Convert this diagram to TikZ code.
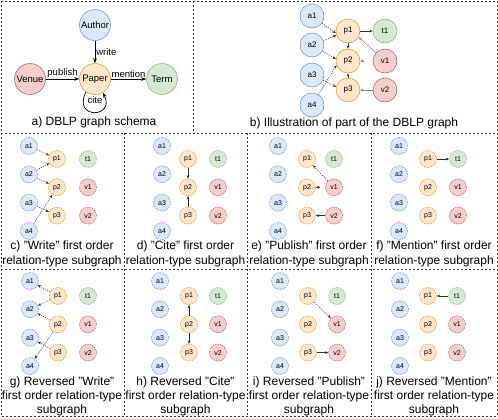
\documentclass[tikz,border=0pt]{standalone}
\usepackage{fontspec}
\setmainfont{Liberation Sans}
\usetikzlibrary{arrows.meta,calc}
\definecolor{bF}{HTML}{DAE8FC}\definecolor{bD}{HTML}{6C8EBF}
\definecolor{oF}{HTML}{FFE6CC}\definecolor{oD}{HTML}{D79B00}
\definecolor{rF}{HTML}{F8CECC}\definecolor{rD}{HTML}{B85450}
\definecolor{gF}{HTML}{D5E8D4}\definecolor{gD}{HTML}{82B366}
\definecolor{edgeC}{HTML}{333333}
\newcommand\qq{\symbol{34}}
\tikzset{
  frm/.style={line width=0.7pt, dash pattern=on 2pt off 2pt, black!80},
  bignode/.style={circle, minimum size=31pt, inner sep=0pt, line width=0.5pt, font=\fontsize{9.5}{11}\selectfont},
  midnode/.style={circle, minimum size=24pt, inner sep=0pt, line width=0.5pt, font=\fontsize{8}{9}\selectfont},
  smlnode/.style={circle, minimum size=17pt, inner sep=0pt, line width=0.5pt, dash pattern=on 1.5pt off 1pt, font=\fontsize{7}{8}\selectfont},
  colA/.style={fill=bF, draw=bD}, colP/.style={fill=oF, draw=oD},
  colV/.style={fill=rF, draw=rD}, colT/.style={fill=gF, draw=gD},
  sa/.style={smlnode,colA}, sp/.style={smlnode,colP}, sv/.style={smlnode,colV}, st/.style={smlnode,colT},
  arr/.style={-{Stealth[length=5pt,width=3.5pt]}, line width=0.7pt, black},
  sarr/.style={-{Stealth[length=3.5pt,width=2.8pt]}, line width=0.5pt, edgeC},
  darr/.style={sarr, dash pattern=on 1.2pt off 1.2pt},
  elab/.style={font=\fontsize{9.5}{11}\selectfont, inner sep=1pt},
  captxt/.style={font=\fontsize{12}{15}\selectfont, align=center, inner sep=0pt},
}
\newcommand\mksub[6]{%
  \node[sa] (#1a1) at (#2,#5) {a1};
  \node[sa] (#1a2) at (#2,{#5+28.3}) {a2};
  \node[sa] (#1a3) at (#2,{#5+56.6}) {a3};
  \node[sa] (#1a4) at (#2,{#5+85}) {a4};
  \node[sp] (#1p1) at (#3,#6) {p1};
  \node[sp] (#1p2) at (#3,{#6+28.3}) {p2};
  \node[sp] (#1p3) at (#3,{#6+56.6}) {p3};
  \node[st] (#1t1) at (#4,#6) {t1};
  \node[sv] (#1v1) at (#4,{#6+28.3}) {v1};
  \node[sv] (#1v2) at (#4,{#6+56.6}) {v2};
}
\begin{document}
\begin{tikzpicture}[x=1pt,y=-1pt]
\useasboundingbox (0,0) rectangle (498,418);
% frames
\draw[frm] (1,1) rectangle (497,416);
\draw[frm] (1,133) -- (497,133);
\draw[frm] (1,269) -- (497,269);
\draw[frm] (193,1) -- (193,133);
\draw[frm] (124,133) -- (124,416);
\draw[frm] (247,133) -- (247,416);
\draw[frm] (371,133) -- (371,416);

% panel a
\node[bignode,colA] (author) at (95,25) {Author};
\node[bignode,colP] (paper) at (95,79) {Paper};
\node[bignode,colV] (venue) at (30,79) {Venue};
\node[bignode,colT] (term) at (162,79) {Term};
\draw[arr] (author) -- node[elab, right] {write} (paper);
\draw[arr] (venue) -- node[elab, above, inner sep=1.5pt] {publish} (paper);
\draw[arr] (paper) -- node[elab, above, inner sep=1.5pt] {mention} (term);
\draw[arr] (paper.235) .. controls (72,120) and (116,118) .. (paper.300);
\node[elab] (citel) at (95,100) {cite};
\node[captxt] (capa) at (94,122) {a) DBLP graph schema};

% panel b
\node[midnode,colA] (a1) at (312,16) {a1};
\node[midnode,colA] (a2) at (312,45) {a2};
\node[midnode,colA] (a3) at (312,75) {a3};
\node[midnode,colA] (a4) at (312,105) {a4};
\node[midnode,colP] (p1) at (348,31) {p1};
\node[midnode,colP] (p2) at (348,61) {p2};
\node[midnode,colP] (p3) at (348,90) {p3};
\node[midnode,colT] (t1) at (385,31) {t1};
\node[midnode,colV] (v1) at (385,61) {v1};
\node[midnode,colV] (v2) at (385,90) {v2};
\draw[darr] (a1) -- (p1.190);
\draw[darr] (a2) -- (p1.200);
\draw[darr] (a2) -- (p2.170);
\draw[darr] (a3) -- (p3.165);
\draw[darr] (a4) -- (p2.200);
\draw[sarr] (p1) -- (p2);
\draw[sarr] (p3) -- (p2);
\draw[sarr] (p1) -- (t1);
\draw[sarr, gray] (v1) -- (p1.330);
\coordinate (bstub) at ($(p2.east)+(4,0)$);
\draw[sarr, gray] (bstub) -- (p2.east);
\draw[sarr, gray] (v2) -- (p3);
\node[captxt] (capb) at (354,123) {b) Illustration of part of the DBLP graph};

% row 2
\mksub{c}{29}{57}{88}{146}{159}
\mksub{d}{162}{188}{218}{146}{159}
\mksub{e}{278}{307}{334}{146}{159}
\mksub{f}{399}{428}{458}{146}{159}
\draw[darr] (ca1) -- (cp1); \draw[darr] (ca2) -- (cp1); \draw[darr] (ca2) -- (cp2);
\draw[darr] (ca3) -- (cp3); \draw[darr] (ca4) -- (cp2);
\draw[sarr] (dp1) -- (dp2); \draw[sarr] (dp3) -- (dp2);
\draw[darr] (ev1) -- (ep1);
\coordinate (estub) at ($(ep2.east)+(4,0)$);
\draw[sarr] (estub) -- (ep2.east);
\draw[sarr] (ev2) -- (ep3);
\draw[sarr] (fp1) -- (ft1);
\node[captxt] (capc) at (62,254) {c) \qq Write\qq{} first order\\relation-type subgraph};
\node[captxt] (capd) at (185.5,254) {d) \qq Cite\qq{} first order\\relation-type subgraph};
\node[captxt] (cape) at (309,254) {e) \qq Publish\qq{} first order\\relation-type subgraph};
\node[captxt] (capf) at (434,254) {f) \qq Mention\qq{} first order\\relation-type subgraph};

% row 3
\mksub{g}{30}{58}{88}{281}{296}
\mksub{h}{160}{189}{218}{281}{296}
\mksub{i}{280}{308}{337}{281}{296}
\mksub{j}{400}{428}{457}{281}{296}
\draw[darr] (gp1) -- (ga1); \draw[darr] (gp1) -- (ga2); \draw[darr] (gp2) -- (ga2);
\draw[darr] (gp3) -- (ga3); \draw[darr] (gp2) -- (ga4);
\draw[sarr] (hp2) -- (hp1); \draw[sarr] (hp2) -- (hp3);
\draw[darr] (ip1) -- (iv1); \draw[sarr] (ip3) -- (iv2);
\draw[sarr] (jt1) -- (jp1);
\node[captxt, font=\fontsize{12}{14}\selectfont] (capg) at (62,396) {g) Reversed \qq Write\qq\\first order relation-type\\subgraph};
\node[captxt, font=\fontsize{12}{14}\selectfont] (caph) at (185.5,396) {h) Reversed \qq Cite\qq\\first order relation-type\\subgraph};
\node[captxt, font=\fontsize{12}{14}\selectfont] (capi) at (309,396) {i) Reversed \qq Publish\qq\\first order relation-type\\subgraph};
\node[captxt, font=\fontsize{12}{14}\selectfont] (capj) at (434,396) {j) Reversed \qq Mention\qq\\first order relation-type\\subgraph};
\end{tikzpicture}
\end{document}
